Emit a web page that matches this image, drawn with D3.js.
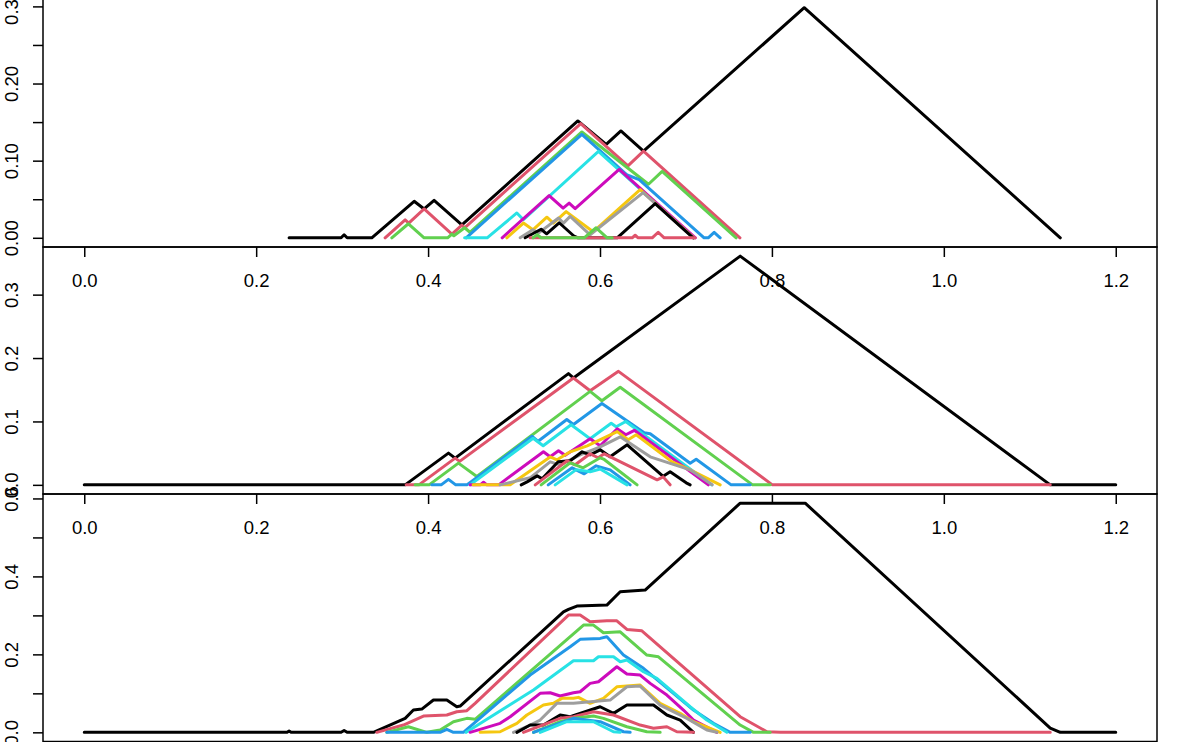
<!DOCTYPE html>
<html>
<head>
<meta charset="utf-8">
<script src="https://cdn.jsdelivr.net/npm/d3@7"></script>
<style>
body { margin: 0; background: #fff; }
svg { display: block; }
</style>
</head>
<body>
<div id="chart"></div>
<script>
// R default palette, lambda_k gets palette[(k-1) % 8]
var palette = ["#000000", "#DF536B", "#61D04F", "#2297E6", "#28E2E5", "#CD0BBC", "#F5C710", "#9E9E9E"];

var xTicks = [0, 0.2, 0.4, 0.6, 0.8, 1.0, 1.2];

var yTicksTop  = [0, 0.05, 0.10, 0.15, 0.20, 0.25, 0.30];
var yLabelsTop = ["0.00", "", "0.10", "", "0.20", "", "0.30"];
var yTicksMid  = [0, 0.1, 0.2, 0.3];
var yLabelsMid = ["0.0", "0.1", "0.2", "0.3"];
var yTicksSum  = [0, 0.1, 0.2, 0.3, 0.4, 0.5, 0.6];
var yLabelsSum = ["0.0", "", "0.2", "", "0.4", "", "0.6"];

// landscape functions, [t, value] break points, lambda_1 first
var landTop = [
	[[0.2383,0],[0.2988,0],[0.3023,0.0039],[0.3058,0],[0.3345,0],[0.3838,0.0473],[0.3954,0.0374],[0.4070,0.0486],[0.4393,0.0169],[0.5742,0.1515],[0.6072,0.1211],[0.6243,0.1385],[0.6506,0.1124],[0.8376,0.2983],[1.1355,0]],
	[[0.3500,0],[0.3733,0.0233],[0.3775,0.0191],[0.3954,0.0374],[0.4277,0.0049],[0.4393,0.0164],[0.4425,0.0130],[0.5776,0.1481],[0.6325,0.0933],[0.6506,0.1124],[0.7628,0]],
	[[0.3578,0],[0.3771,0.0182],[0.3954,0],[0.4227,0],[0.4277,0.0049],[0.4300,0.0026],[0.4425,0.0130],[0.4487,0.0072],[0.5789,0.1372],[0.6564,0.0694],[0.6723,0.0860],[0.7584,0]],
	[[0.4443,0],[0.5789,0.1342],[0.6316,0.0814],[0.6456,0.0755],[0.7211,0],[0.7259,0],[0.7328,0.0070],[0.7398,0]],
	[[0.4425,0],[0.4687,0],[0.5033,0.0322],[0.5109,0.0234],[0.5982,0.1120],[0.7096,0]],
	[[0.4862,0],[0.5408,0.0547],[0.5571,0.0384],[0.5641,0.0449],[0.5711,0.0378],[0.6223,0.0886],[0.7109,0]],
	[[0.4916,0],[0.5109,0.0191],[0.5219,0.0104],[0.5382,0.0267],[0.5458,0.0190],[0.5606,0.0339],[0.5920,0.0078],[0.6467,0.0625],[0.7092,0]],
	[[0.5071,0],[0.5219,0.0104],[0.5284,0.0061],[0.5517,0.0256],[0.5575,0.0191],[0.5653,0.0277],[0.5885,0.0039],[0.6502,0.0585],[0.7087,0]],
	[[0.5129,0],[0.5315,0.0111],[0.5379,0.0052],[0.5525,0.0195],[0.5699,0.0020],[0.5746,0],[0.6200,0],[0.6642,0.0443],[0.7084,0]],
	[[0.5187,0],[0.6374,0],[0.6409,0.0033],[0.6444,0],[0.6607,0],[0.6677,0.0072],[0.6747,0],[0.7107,0]],
	[[0.5222,0],[0.5269,0.0039],[0.5315,0],[0.5816,0],[0.5955,0.0130],[0.6083,0],[0.6142,0]]
];

var landMid = [
	[[0,0],[0.3733,0],[0.4237,0.0501],[0.4315,0.0422],[0.5633,0.1754],[0.5691,0.1686],[0.7631,0.3607],[1.1238,0],[1.2,0]],
	[[0.3745,0],[0.3893,0],[0.4315,0.0422],[0.4367,0.0370],[0.5691,0.1686],[0.5885,0.1485],[0.6215,0.1790],[0.8005,0],[1.1238,0]],
	[[0.3849,0],[0.4012,0],[0.4353,0.0343],[0.4567,0.0131],[0.5885,0.1474],[0.6022,0.1327],[0.6235,0.1540],[0.7775,0],[0.7980,0]],
	[[0.4043,0],[0.4152,0],[0.4237,0.0087],[0.4322,0],[0.4451,0],[0.5211,0.0766],[0.5280,0.0687],[0.5614,0.1030],[0.5691,0.0953],[0.6022,0.1283],[0.6514,0.0822],[0.6584,0.0806],[0.7049,0.0340],[0.7119,0.0403],[0.7526,0],[0.7747,0]],
	[[0.4489,0],[0.5222,0.0735],[0.5339,0.0616],[0.5664,0.0948],[0.5885,0.0727],[0.6130,0.0972],[0.6188,0.0916],[0.6300,0.1000],[0.7300,0]],
	[[0.4489,0],[0.4606,0],[0.4645,0.0040],[0.4684,0],[0.4821,0],[0.5342,0.0521],[0.5420,0.0443],[0.5517,0.0537],[0.5595,0.0466],[0.5885,0.0727],[0.6002,0.0616],[0.6200,0.0885],[0.6300,0.0790],[0.6400,0.0860],[0.7260,0]],
	[[0.4524,0],[0.4955,0],[0.5420,0.0440],[0.5501,0.0395],[0.5653,0.0521],[0.5851,0.0616],[0.6200,0.0840],[0.6328,0.0711],[0.6421,0.0790],[0.6840,0.0363],[0.7049,0.0237],[0.7398,0]],
	[[0.4838,0],[0.5187,0.0111],[0.5420,0.0363],[0.5536,0.0316],[0.5769,0.0474],[0.6002,0.0600],[0.6235,0.0758],[0.6584,0.0442],[0.7049,0.0237],[0.7305,0]],
	[[0.5083,0],[0.5152,0.0047],[0.5269,0.0142],[0.5327,0.0095],[0.5513,0.0363],[0.5653,0.0379],[0.5792,0.0521],[0.5885,0.0474],[0.6002,0.0553],[0.6118,0.0442],[0.6316,0.0632],[0.6735,0.0134],[0.6816,0.0205],[0.7003,0.0032],[0.7049,0]],
	[[0.5246,0],[0.5618,0.0379],[0.5711,0.0316],[0.5885,0.0490],[0.5979,0.0427],[0.6049,0.0490],[0.6665,0.0079],[0.6735,0.0126],[0.6816,0]],
	[[0.5315,0],[0.5653,0.0348],[0.5804,0.0269],[0.6002,0.0427],[0.6049,0.0400],[0.6432,0]],
	[[0.5397,0],[0.5676,0.0269],[0.5816,0.0174],[0.5955,0.0300],[0.6118,0.0237],[0.6351,0]],
	[[0.5478,0],[0.5723,0.0240],[0.5885,0.0205],[0.6002,0.0250],[0.6316,0]]
];

var landSum = [
	[[0,0],[0.2360,0],[0.2383,0.0033],[0.2406,0],[0.2988,0],[0.3023,0.0046],[0.3058,0],[0.3364,0],[0.3733,0.0359],[0.3829,0.0572],[0.3927,0.0597],[0.4062,0.0828],[0.4218,0.0828],[0.4334,0.0656],[0.4373,0.0674],[0.5575,0.3092],[0.5633,0.3154],[0.5731,0.3238],[0.6080,0.3264],[0.6235,0.3605],[0.6525,0.3649],[0.7631,0.5879],[0.8387,0.5879],[1.1238,0.0110],[1.1355,0],[1.2,0]],
	[[0.3403,0],[0.3713,0.0187],[0.3946,0.0418],[0.4218,0.0444],[0.4334,0.0528],[0.4451,0.0554],[0.4547,0.0744],[0.5633,0.3008],[0.5769,0.3008],[0.5885,0.2836],[0.6080,0.2862],[0.6196,0.2862],[0.6313,0.2641],[0.6487,0.2605],[0.7631,0.0400],[0.7942,0.0015],[0.8100,0],[1.1238,0]],
	[[0.3520,0],[0.3771,0.0144],[0.3985,0],[0.4140,0.0059],[0.4295,0.0272],[0.4451,0.0359],[0.4547,0.0333],[0.5808,0.2751],[0.5924,0.2751],[0.6040,0.2554],[0.6235,0.2579],[0.6545,0.1982],[0.6680,0.1938],[0.7631,0.0187],[0.7786,0],[0.7980,0]],
	[[0.3520,0],[0.4140,0],[0.4218,0.0077],[0.4295,0],[0.4411,0],[0.5187,0.1469],[0.5653,0.2195],[0.5769,0.2385],[0.6002,0.2410],[0.6080,0.2451],[0.6273,0.1982],[0.6506,0.1641],[0.7088,0.0572],[0.7320,0.0231],[0.7515,0],[0.7747,0]],
	[[0.4443,0],[0.5226,0.1085],[0.5691,0.1836],[0.5924,0.1836],[0.5982,0.1938],[0.6157,0.1938],[0.6235,0.1810],[0.6313,0.1854],[0.6506,0.1554],[0.6662,0.1385],[0.7049,0.0656],[0.7243,0.0315],[0.7476,0]],
	[[0.4489,0],[0.4838,0.0231],[0.4955,0.0400],[0.5304,0.1000],[0.5420,0.1015],[0.5536,0.0931],[0.5691,0.1015],[0.5769,0.1041],[0.5885,0.1256],[0.5982,0.1297],[0.6196,0.1682],[0.6313,0.1495],[0.6467,0.1469],[0.6584,0.1256],[0.6778,0.0956],[0.6971,0.0572],[0.7088,0.0315],[0.7360,0]],
	[[0.4606,0],[0.4838,0.0015],[0.5033,0.0231],[0.5149,0.0444],[0.5342,0.0700],[0.5458,0.0744],[0.5556,0.0872],[0.5691,0.0872],[0.5749,0.0897],[0.5885,0.0744],[0.6040,0.0872],[0.6196,0.1169],[0.6467,0.1213],[0.6700,0.0744],[0.6933,0.0487],[0.7088,0.0272],[0.7398,0]],
	[[0.4993,0],[0.5149,0.0144],[0.5304,0.0315],[0.5498,0.0744],[0.5691,0.0744],[0.6118,0.0828],[0.6313,0.1169],[0.6467,0.1187],[0.6700,0.0700],[0.7011,0.0359],[0.7243,0.0059],[0.7360,0]],
	[[0.5033,0],[0.5187,0.0187],[0.5342,0.0187],[0.5536,0.0444],[0.5653,0.0400],[0.6002,0.0656],[0.6157,0.0487],[0.6313,0.0700],[0.6622,0.0700],[0.6778,0.0444],[0.6933,0.0315],[0.7088,0]],
	[[0.5109,0],[0.5536,0.0359],[0.5691,0.0400],[0.5924,0.0528],[0.6157,0.0444],[0.6467,0.0187],[0.6622,0.0103],[0.6778,0.0144],[0.6894,0.0015],[0.7088,0]],
	[[0.5226,0],[0.5536,0.0272],[0.5691,0.0359],[0.5924,0.0418],[0.6040,0.0359],[0.6313,0.0144],[0.6545,0.0015],[0.6700,0]],
	[[0.5226,0],[0.5691,0.0359],[0.6002,0.0272],[0.6273,0.0015],[0.6351,0]],
	[[0.5304,0],[0.5614,0.0272],[0.5924,0.0272],[0.6157,0.0015],[0.6235,0]]
];

var vars = {
	width: 1200,
	height: 742,
	left: 43,
	right: 1157,
	fontSize: 18.5,
	tick: 10
};

// three stacked R-style plot boxes, y range padded 4% like R does
var panels = [
	{ lines: landTop, top: -1.5, bottom: 247,   yTicks: yTicksTop, yLabels: yLabelsTop, showX: true },
	{ lines: landMid, top: 247,  bottom: 494,   yTicks: yTicksMid, yLabels: yLabelsMid, showX: true },
	{ lines: landSum, top: 494,  bottom: 741.5, yTicks: yTicksSum, yLabels: yLabelsSum, showX: false }
];

var svg = d3.select("#chart").append("svg")
	.attr("width", vars.width)
	.attr("height", vars.height)
	.style("font-family", "'Liberation Sans', Arial, Helvetica, sans-serif");

var x = d3.scaleLinear().domain([-0.048, 1.248]).range([vars.left, vars.right]);

panels.forEach(function(p){
	var ymax = d3.max(p.lines, function(l){ return d3.max(l, function(d){ return d[1]; }); });
	var y = d3.scaleLinear()
		.domain([-0.04 * ymax, 1.04 * ymax])
		.range([p.bottom, p.top]);

	var layer = svg.append("g").attr("class", "panel");

	var line = d3.line()
		.x(function(d){ return x(d[0]); })
		.y(function(d){ return y(d[1]); });

	layer.append("g").attr("class", "landscapes")
		.selectAll("path")
		.data(p.lines)
		.enter().append("path")
			.attr("d", line)
			.attr("fill", "none")
			.attr("stroke", function(d, i){ return palette[i % palette.length]; })
			.attr("stroke-width", 3)
			.attr("stroke-linejoin", "round")
			.attr("stroke-linecap", "round");

	// box
	layer.append("rect")
		.attr("x", vars.left)
		.attr("y", p.top)
		.attr("width", vars.right - vars.left)
		.attr("height", p.bottom - p.top)
		.attr("fill", "none")
		.attr("stroke", "#000")
		.attr("stroke-width", 1.5);

	// y axis, labels turned like las=0
	var yAxis = layer.append("g")
		.attr("transform", "translate(" + vars.left + ",0)")
		.call(d3.axisLeft(y)
			.tickValues(p.yTicks)
			.tickSize(vars.tick)
			.tickFormat(function(d, i){ return p.yLabels[i]; }));
	yAxis.select(".domain").remove();
	yAxis.selectAll(".tick line").attr("stroke", "#000").attr("stroke-width", 1.5);
	yAxis.selectAll(".tick text")
		.attr("transform", "rotate(-90)")
		.attr("x", 0)
		.attr("y", -25)
		.attr("dy", 0)
		.attr("text-anchor", "middle")
		.attr("fill", "#000")
		.style("font-size", vars.fontSize + "px");

	if ( p.showX ){
		var xAxis = layer.append("g")
			.attr("transform", "translate(0," + p.bottom + ")")
			.call(d3.axisBottom(x)
				.tickValues(xTicks)
				.tickSize(vars.tick)
				.tickFormat(d3.format(".1f")));
		xAxis.select(".domain").remove();
		xAxis.selectAll(".tick line").attr("stroke", "#000").attr("stroke-width", 1.5);
		xAxis.selectAll(".tick text")
			.attr("y", 39.7)
			.attr("dy", 0)
			.attr("fill", "#000")
			.style("font-size", vars.fontSize + "px");
	}
});
</script>
</body>
</html>
